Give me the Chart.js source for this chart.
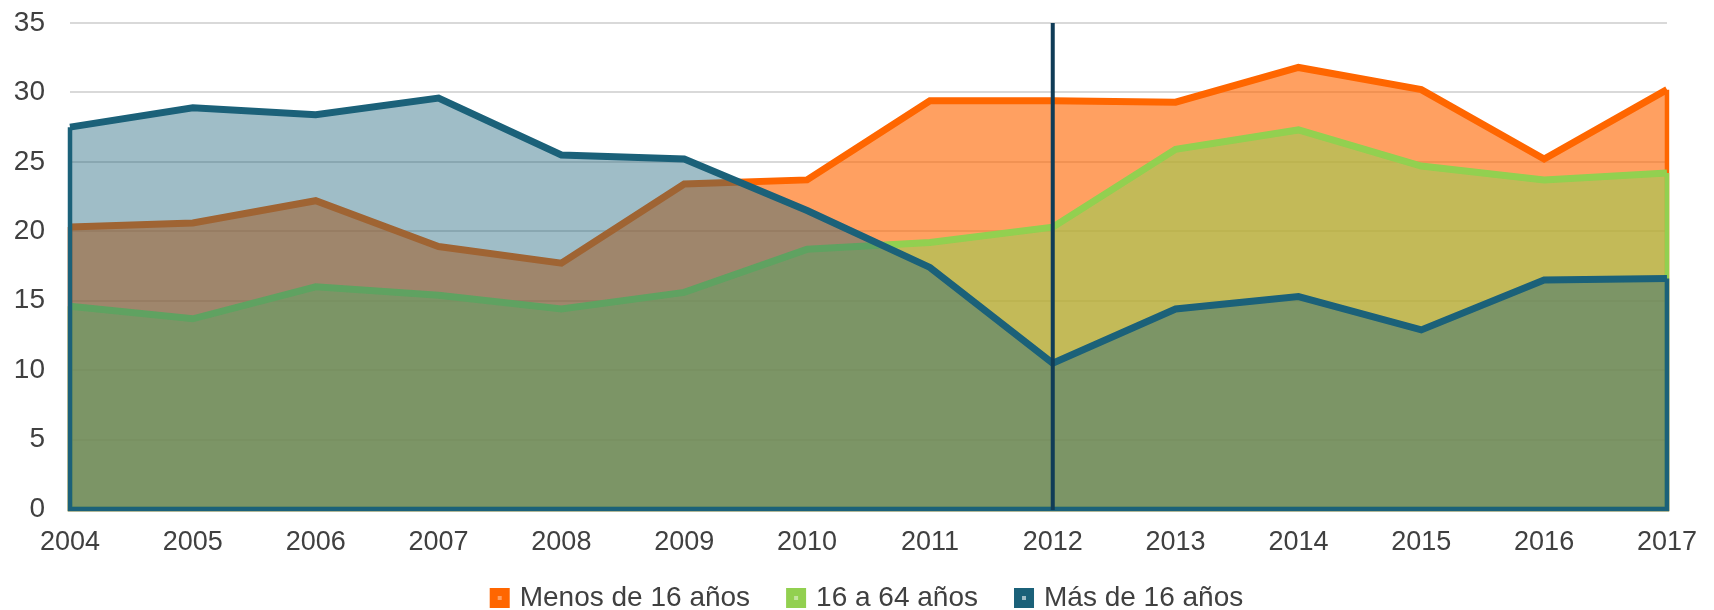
<!DOCTYPE html>
<html>
<head>
<meta charset="utf-8">
<script src="https://cdn.jsdelivr.net/npm/chart.js@4/dist/chart.umd.min.js"></script>
<style>
  html, body { margin: 0; padding: 0; background: #fff; }
  #wrap { width: 1714px; height: 610px; }
</style>
</head>
<body>
<div id="wrap"><canvas id="chart"></canvas></div>
<script>
// data
const years = ['2004', '2005', '2006', '2007', '2008', '2009', '2010', '2011', '2012', '2013', '2014', '2015', '2016', '2017'];
const menos16 = [20.3, 20.6, 22.2, 18.9, 17.7, 23.4, 23.7, 29.4, 29.4, 29.3, 31.8, 30.2, 25.2, 30.2];
const de16a64 = [14.6, 13.7, 16.0, 15.4, 14.4, 15.6, 18.7, 19.2, 20.3, 25.9, 27.3, 24.7, 23.7, 24.2];
const mas16 = [27.5, 28.9, 28.4, 29.6, 25.5, 25.2, 21.5, 17.4, 10.5, 14.4, 15.3, 12.9, 16.5, 16.6];
const seriesNames = ['Menos de 16 años', '16 a 64 años', 'Más de 16 años'];
const markerYear = '2012';

const FONT = '"Liberation Sans", Arial, sans-serif';
const TEXT = '#404040';

// close each area outline down to the baseline (left, bottom, right)
const areaEdges = {
    id: 'areaEdges',
    afterDatasetDraw(chart, args) {
        const pts = args.meta.data;
        if (!pts.length) return;
        const ds = chart.data.datasets[args.index];
        const base = chart.scales.y.getPixelForValue(0);
        const first = pts[0];
        const last = pts[pts.length - 1];
        const ctx = chart.ctx;
        ctx.save();
        ctx.strokeStyle = ds.borderColor;
        ctx.lineWidth = 4.5;
        ctx.lineJoin = 'miter';
        ctx.beginPath();
        ctx.moveTo(first.x, first.y);
        ctx.lineTo(first.x, base);
        ctx.lineTo(last.x, base);
        ctx.lineTo(last.x, last.y);
        ctx.stroke();
        ctx.restore();
    }
};

// vertical marker line
const markerLine = {
    id: 'markerLine',
    afterDatasetsDraw(chart) {
        const x = chart.scales.x.getPixelForValue(years.indexOf(markerYear));
        const y = chart.scales.y;
        const ctx = chart.ctx;
        ctx.save();
        ctx.strokeStyle = '#103c57';
        ctx.lineWidth = 4;
        ctx.beginPath();
        ctx.moveTo(x, y.getPixelForValue(35));
        ctx.lineTo(x, y.getPixelForValue(0) + 1);
        ctx.stroke();
        ctx.restore();
    }
};

// legend padding is wide for spacing, pull the row back up
const legendShift = {
    id: 'legendShift',
    afterLayout(chart) {
        chart.legend.top -= 15;
        chart.legend.bottom -= 15;
    }
};

const ctx = document.querySelector('#chart').getContext('2d');

let areaChart = new Chart(ctx, {
    type: 'line',
    data: {
        labels: years,
        datasets: [{
            label: seriesNames[0],
            data: menos16,
            borderColor: '#ff6600',
            backgroundColor: 'rgba(255,102,0,0.62)',
            fill: 'origin',
            order: 3
        }, {
            label: seriesNames[1],
            data: de16a64,
            borderColor: '#92d050',
            backgroundColor: 'rgba(146,208,80,0.55)',
            fill: 'origin',
            order: 2
        }, {
            label: seriesNames[2],
            data: mas16,
            borderColor: '#1b6179',
            backgroundColor: 'rgba(27,97,121,0.42)',
            fill: 'origin',
            order: 1
        }]
    },
    options: {
        responsive: true,
        maintainAspectRatio: false,
        animation: false,
        layout: {
            padding: { top: 5, right: 35, bottom: -27, left: 0 }
        },
        elements: {
            line: {
                tension: 0,
                borderWidth: 7,
                borderJoinStyle: 'miter',
                borderCapStyle: 'butt'
            },
            point: { radius: 0, hoverRadius: 0 }
        },
        scales: {
            x: {
                offset: false,
                grid: { display: false, drawTicks: false },
                border: { color: '#1b6179', width: 2 },
                ticks: {
                    color: TEXT,
                    font: { family: FONT, size: 27 },
                    padding: 17,
                    maxRotation: 0,
                    autoSkip: false
                },
                afterFit(scale) { scale.height = 50; }
            },
            y: {
                min: 0,
                max: 35,
                grid: { color: '#d9d9d9', lineWidth: 2, drawTicks: false },
                border: { display: false },
                ticks: {
                    stepSize: 5,
                    color: TEXT,
                    font: { family: FONT, size: 28 },
                    padding: 25
                },
                afterFit(scale) {
                    scale.width = 70;
                    scale.paddingTop = 23;
                }
            }
        },
        plugins: {
            legend: {
                position: 'bottom',
                fullSize: false,
                labels: {
                    color: TEXT,
                    font: { family: FONT, size: 28 },
                    boxWidth: 12,
                    boxHeight: 12,
                    padding: 40,
                    sort: (a, b) => a.datasetIndex - b.datasetIndex,
                    generateLabels(chart) {
                        const items = Chart.defaults.plugins.legend.labels.generateLabels(chart);
                        items.forEach(item => { item.lineWidth = 8; });
                        return items;
                    }
                }
            },
            tooltip: { enabled: false }
        }
    },
    plugins: [areaEdges, markerLine, legendShift]
});
</script>
</body>
</html>
